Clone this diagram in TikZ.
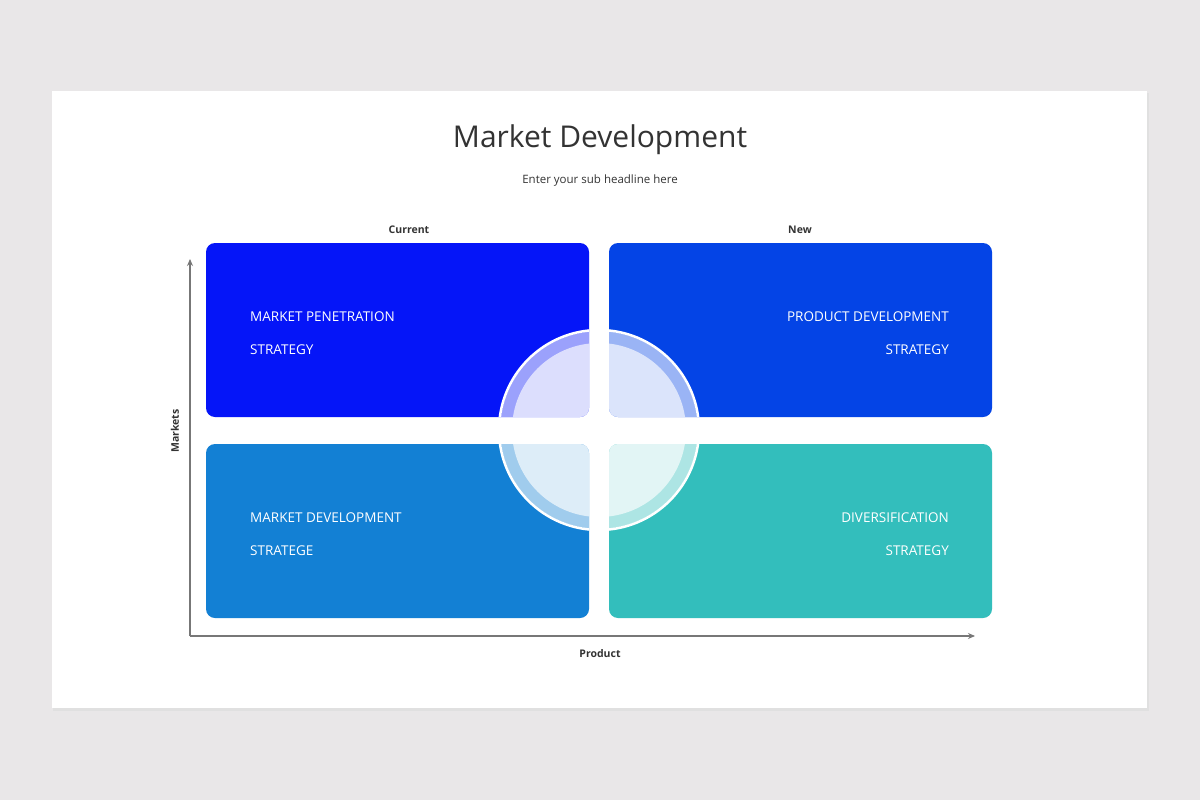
\documentclass[tikz,border=0pt]{standalone}
\usepackage{fontspec}
\setmainfont{Open Sans}
\usetikzlibrary{arrows.meta}
\definecolor{bg}{HTML}{E9E7E8}
\definecolor{cA}{HTML}{0515F8}
\definecolor{cB}{HTML}{0444E6}
\definecolor{cC}{HTML}{1380D4}
\definecolor{cD}{HTML}{33BEBC}
\definecolor{ax}{HTML}{777777}
\definecolor{tx}{HTML}{333333}
\tikzset{
 quad/.style={rounded corners=9pt,draw=none},
 lbl/.style={text=white,font=\fontsize{13.5}{16}\selectfont,inner sep=0pt},
 axl/.style={text=tx,font=\fontsize{10.5}{12}\selectfont\bfseries,inner sep=0pt},
 axis/.style={draw=ax,line width=1.5pt,-{Stealth[length=7pt,width=6pt]}}
}
\begin{document}
\begin{tikzpicture}[x=1pt,y=-1pt]
\fill[bg] (0,0) rectangle (1200,800);
\useasboundingbox (0,0) rectangle (1200,800);
\fill[black!12] (53,93) rectangle (1149,711);
\fill[white] (52,91) rectangle (1147,708);
\node[text=tx,font=\fontsize{30}{34}\selectfont] (title) at (600,140) {Market Development};
\node[text=tx,font=\fontsize{11.5}{14}\selectfont] (sub) at (600,181) {Enter your sub headline here};
\fill[quad,cA] (206,243) rectangle (589,417);
\fill[quad,cB] (609,243) rectangle (992,417);
\fill[quad,cC] (206,444) rectangle (589,618);
\fill[quad,cD] (609,444) rectangle (992,618);
\begin{scope}
\clip[rounded corners=9pt] (206,243) rectangle (589,417) (609,243) rectangle (992,417) (206,444) rectangle (589,618) (609,444) rectangle (992,618);
\fill[white,opacity=0.6] (599,430) circle (99);
\fill[white,opacity=0.65] (599,430) circle (87);
\end{scope}
\begin{scope}
\clip (0,0) rectangle (589,417) (609,0) rectangle (1200,417) (0,444) rectangle (589,800) (609,444) rectangle (1200,800);
\draw[white,line width=2.5pt] (599,430) circle (100);
\end{scope}
\node[lbl,anchor=west] (a1) at (250,317) {MARKET PENETRATION};
\node[lbl,anchor=west] (a2) at (250,350) {STRATEGY};
\node[lbl,anchor=east] (b1) at (949,317) {PRODUCT DEVELOPMENT};
\node[lbl,anchor=east] (b2) at (949,350) {STRATEGY};
\node[lbl,anchor=west] (c1) at (250,518) {MARKET DEVELOPMENT};
\node[lbl,anchor=west] (c2) at (250,551) {STRATEGE};
\node[lbl,anchor=east] (d1) at (949,518) {DIVERSIFICATION};
\node[lbl,anchor=east] (d2) at (949,551) {STRATEGY};
\coordinate (o) at (190,636);
\coordinate (ytip) at (190,259);
\coordinate (xtip) at (975,636);
\draw[axis] (o) -- (ytip);
\draw[axis] (o) -- (xtip);
\node[axl] (cur) at (409,230) {Current};
\node[axl] (new) at (800,230) {New};
\node[axl] (prod) at (600,654) {Product};
\node[axl,rotate=90] (mk) at (175,431) {Markets};
\end{tikzpicture}
\end{document}
